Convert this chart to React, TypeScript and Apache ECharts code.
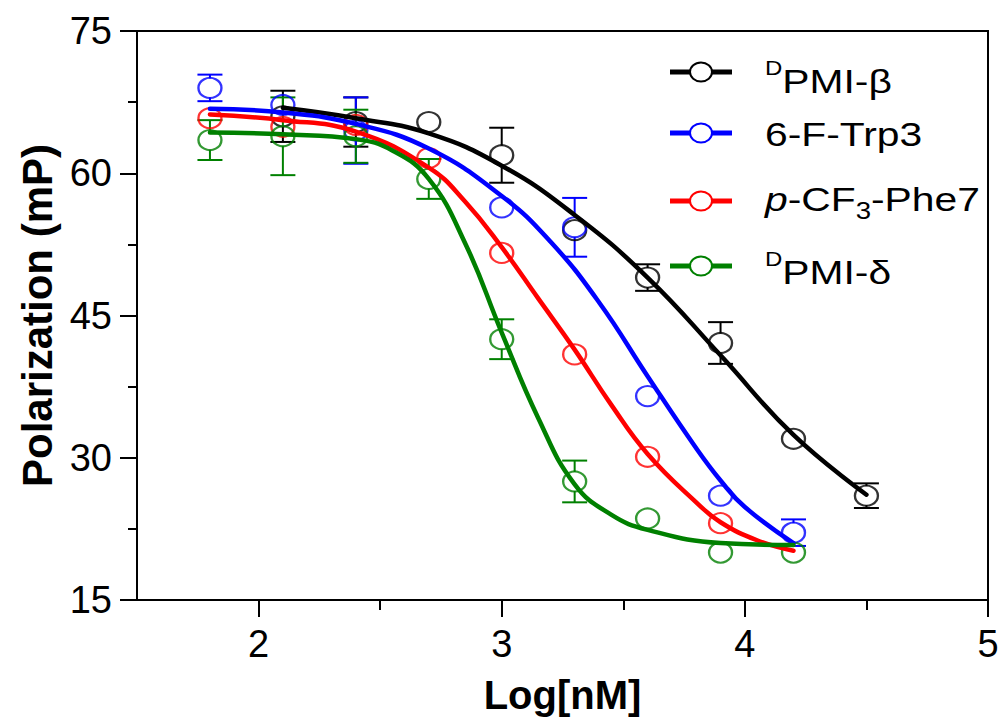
import React, { useEffect, useRef } from "react";
import * as echarts from "echarts";

// ---- measured points (mean, SD) ----
const blackX = [2.1, 2.4, 2.7, 3.0, 3.3, 3.6, 3.9, 4.2, 4.5];
const blackY = [66.0, 65.4, 65.4, 61.9, 54.0, 49.0, 42.1, 32.0, 26.0];
const blackErr = [2.7, 2.6, 0, 2.9, 0, 1.4, 2.2, 0, 1.3];

const blueX = [1.8, 2.1, 2.4, 3.0, 3.3, 3.6, 3.9, 4.2];
const blueY = [69.0, 67.2, 64.5, 56.4, 54.3, 36.5, 26.0, 22.1];
const blueErr = [1.4, 0, 3.5, 0, 3.1, 0, 0, 1.4];

const redX = [1.8, 2.1, 2.4, 2.7, 3.0, 3.3, 3.6, 3.9];
const redY = [65.8, 64.9, 65.1, 61.6, 51.6, 40.9, 30.1, 23.1];
const redErr = [0, 0, 0, 0, 0, 0, 0, 0];

const greenX = [1.8, 2.1, 2.4, 2.7, 3.0, 3.3, 3.6, 3.9, 4.2];
const greenY = [63.5, 63.9, 63.9, 59.4, 42.5, 27.5, 23.6, 20.0, 20.0];
const greenErr = [2.1, 4.1, 2.8, 2.1, 2.1, 2.2, 0, 0, 0];

// ---- fitted curves ----
const blackFitX = [2.1, 2.4, 2.7, 3.0, 3.3, 3.6, 3.9, 4.2, 4.5];
const blackFitY = [66.9, 65.8, 64.2, 60.8, 55.6, 49.0, 40.8, 32.4, 26.1];
const blueFitX = [1.8, 2.1, 2.4, 2.7, 3.0, 3.2, 3.4, 3.6, 3.8, 3.9, 4.0, 4.2];
const blueFitY = [66.8, 66.4, 65.2, 62.6, 57.6, 52.8, 46.4, 38.6, 31.0, 27.6, 24.8, 21.0];
const redFitX = [1.8, 2.1, 2.4, 2.7, 2.85, 3.0, 3.15, 3.3, 3.45, 3.6, 3.8, 3.9, 4.05, 4.2];
const redFitY = [66.2, 65.6, 64.4, 60.6, 57.0, 52.2, 46.8, 41.4, 35.6, 30.4, 25.3, 23.2, 21.3, 20.2];
const greenFitX = [1.8, 2.1, 2.4, 2.55, 2.7, 2.85, 3.0, 3.15, 3.3, 3.45, 3.6, 3.9, 4.2];
const greenFitY = [64.3, 64.1, 63.6, 62.4, 59.4, 52.6, 43.2, 34.2, 27.2, 24.0, 22.4, 21.0, 20.8];

const xMajorTicks = [2, 3, 4, 5];
const xMinorTicks = [2.5, 3.5, 4.5];

const seriesNames = ["{sup|D}PMI-β", "6-F-Trp3", "{it|p}-CF{sub|3}-Phe7", "{sup|D}PMI-δ"];
const seriesColors = ["#000000", "#0000ff", "#ff0000", "#008000"];

const FONT = "'Liberation Sans', Arial, Helvetica, sans-serif";

const pairs = (xs: number[], ys: number[]) => xs.map((x, i) => [x, ys[i]]);
const triples = (xs: number[], ys: number[], es: number[]) =>
  xs.map((x, i) => [x, ys[i], es[i]]).filter((d) => d[2] > 0);

export default function App() {
  const ref = useRef<HTMLDivElement>(null);

  useEffect(() => {
    document.body.style.margin = "0";
    document.body.style.overflow = "hidden";
    if (!ref.current) return;
    const chart = echarts.init(ref.current, undefined, { renderer: "svg" });

    const groups = [
      { pts: pairs(blackX, blackY), err: triples(blackX, blackY, blackErr), fit: pairs(blackFitX, blackFitY) },
      { pts: pairs(blueX, blueY), err: triples(blueX, blueY, blueErr), fit: pairs(blueFitX, blueFitY) },
      { pts: pairs(redX, redY), err: triples(redX, redY, redErr), fit: pairs(redFitX, redFitY) },
      { pts: pairs(greenX, greenY), err: triples(greenX, greenY, greenErr), fit: pairs(greenFitX, greenFitY) },
    ];

    const R = 9.5;
    const CAP = 12.5;
    const series: any[] = [];
    groups.forEach((g, i) => {
      const color = seriesColors[i];
      series.push({
        type: "custom",
        z: 2,
        data: g.err,
        encode: { x: 0, y: 1 },
        renderItem: (params: any, api: any) => {
          const x = api.value(0);
          const y = api.value(1);
          const e = api.value(2);
          const c = api.coord([x, y]);
          const t = api.coord([x, y + e]);
          const b = api.coord([x, y - e]);
          const style = { stroke: color, lineWidth: 2 };
          const children: any[] = [
            { type: "line", shape: { x1: c[0] - CAP, y1: t[1], x2: c[0] + CAP, y2: t[1] }, style },
            { type: "line", shape: { x1: c[0] - CAP, y1: b[1], x2: c[0] + CAP, y2: b[1] }, style },
          ];
          if (t[1] < c[1] - R)
            children.push({ type: "line", shape: { x1: c[0], y1: t[1], x2: c[0], y2: c[1] - R }, style });
          if (b[1] > c[1] + R)
            children.push({ type: "line", shape: { x1: c[0], y1: c[1] + R, x2: c[0], y2: b[1] }, style });
          return { type: "group", children };
        },
      });
      series.push({
        type: "scatter",
        z: 3,
        data: g.pts,
        symbol: "circle",
        symbolSize: [23, 20],
        itemStyle: { color: "rgba(255,255,255,0)", borderColor: color, borderWidth: 2.2 },
        emphasis: { disabled: true },
      });
    });
    groups.forEach((g, i) => {
      series.push({
        type: "line",
        z: 4,
        data: g.fit,
        smooth: 0.45,
        showSymbol: false,
        symbol: "none",
        lineStyle: { color: seriesColors[i], width: 4.5, cap: "round" },
        emphasis: { disabled: true },
      });
    });

    // legend drawn as graphic
    const legendRows = [72, 133, 201, 266];
    const textOffsets = [9, 1, -2, 6];
    const rich = {
      m: { fontSize: 34, lineHeight: 46, fontFamily: FONT, color: "#000" },
      it: { fontSize: 34, lineHeight: 46, fontFamily: FONT, fontStyle: "italic", color: "#000" },
      sup: { fontSize: 20, lineHeight: 20, fontFamily: FONT, verticalAlign: "top", color: "#000" },
      sub: { fontSize: 23, lineHeight: 23, fontFamily: FONT, verticalAlign: "bottom", color: "#000" },
    };
    const legendEls: any[] = [];
    seriesNames.forEach((name, i) => {
      const y = legendRows[i];
      const color = seriesColors[i];
      legendEls.push({
        type: "line",
        shape: { x1: 670, y1: y, x2: 732, y2: y },
        style: { stroke: color, lineWidth: 5 },
      });
      legendEls.push({
        type: "ellipse",
        shape: { cx: 701, cy: y, rx: 11, ry: 9.5 },
        style: { fill: "#fff", stroke: color, lineWidth: 2 },
      });
      const txt = name.replace(/(^|\})([^{}]+?)(?=\{|$)/g, (m, p1, p2) => `${p1}{m|${p2}}`);
      legendEls.push({
        type: "text",
        x: 765,
        y: y + textOffsets[i],
        scaleX: 1.2,
        style: {
          text: txt,
          rich,
          verticalAlign: "middle",
          align: "left",
          fill: "#000",
        },
      });
    });

    const option: any = {
      animation: false,
      backgroundColor: "#ffffff",
      grid: {
        left: 137,
        right: 12,
        top: 31,
        bottom: 119,
        show: true,
        borderColor: "#000",
        borderWidth: 2,
        backgroundColor: "transparent",
        containLabel: false,
        outerBoundsMode: "none",
      },
      xAxis: [
        {
          type: "value",
          min: 1.5,
          max: 5,
          interval: 0.5,
          position: "bottom",
          axisLine: { show: true, lineStyle: { color: "#000", width: 2 } },
          axisTick: { show: true, length: 17, customValues: xMajorTicks, lineStyle: { color: "#000", width: 2 } },
          axisLabel: {
            customValues: xMajorTicks,
            fontSize: 38,
            color: "#000",
            margin: 25,
            fontFamily: FONT,
          },
          splitLine: { show: false },
          name: "Log[nM]",
          nameLocation: "middle",
          nameGap: 75,
          nameTextStyle: { fontSize: 40, fontWeight: "bold", color: "#000", fontFamily: FONT },
        },
        {
          type: "value",
          min: 1.5,
          max: 5,
          interval: 0.5,
          position: "bottom",
          offset: 0,
          axisLine: { show: false },
          axisTick: { show: true, length: 10, customValues: xMinorTicks, lineStyle: { color: "#000", width: 2 } },
          axisLabel: { show: false },
          splitLine: { show: false },
        },
      ],
      yAxis: {
        type: "value",
        min: 15,
        max: 75,
        interval: 15,
        axisLine: { show: true, lineStyle: { color: "#000", width: 2 } },
        axisTick: { show: true, length: 17, lineStyle: { color: "#000", width: 2 } },
        minorTick: { show: true, splitNumber: 2, length: 9, lineStyle: { color: "#000", width: 2 } },
        axisLabel: { fontSize: 38, color: "#000", margin: 25, fontFamily: FONT },
        splitLine: { show: false },
        minorSplitLine: { show: false },
        name: "Polarization (mP)",
        nameLocation: "middle",
        nameGap: 67,
        nameTextStyle: { fontSize: 42, fontWeight: "bold", color: "#000", fontFamily: FONT },
      },
      graphic: legendEls,
      series,
    };

    chart.setOption(option);
    return () => chart.dispose();
  }, []);

  return <div ref={ref} style={{ width: 1000, height: 719 }} />;
}
